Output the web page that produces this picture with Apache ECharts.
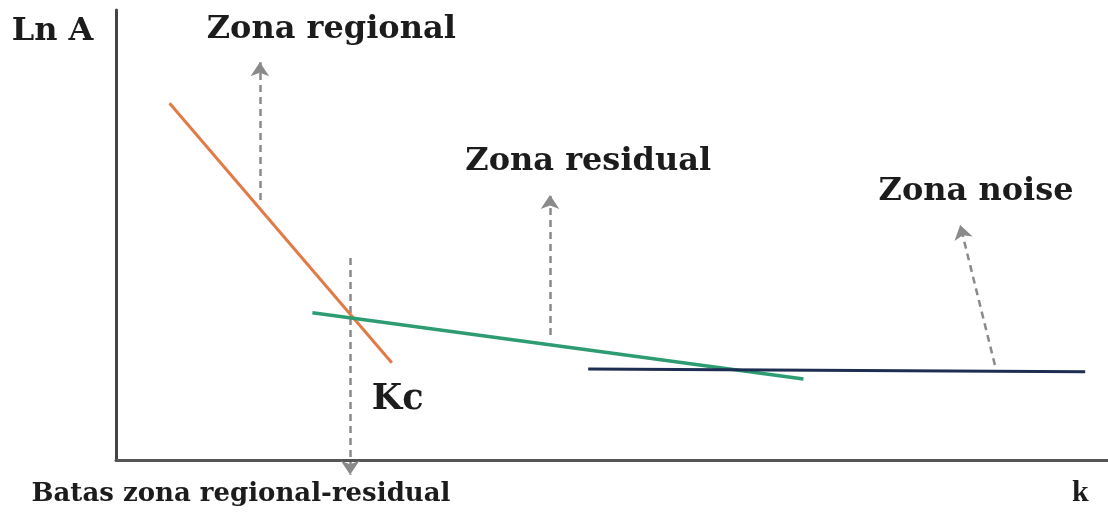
<!DOCTYPE html>
<html>
<head>
<meta charset="utf-8">
<script src="https://cdn.jsdelivr.net/npm/echarts@6/dist/echarts.min.js"></script>
<style>
html,body{margin:0;padding:0;background:#fff;}
#chart{width:1108px;height:515px;}
</style>
</head>
<body>
<div id="chart"></div>
<script>
// ---- data (abstract units: x 0..100, y 0..100) ----
const regionalLine = [[5.4, 79.3], [27.8, 21.6]];
const residualLine = [[19.8, 32.7], [69.3, 18.0]];
const noiseLine = [[47.6, 20.2], [97.7, 19.6]];

// dashed arrows: [from, to]
const arrowRegional = [[14.5, 57.8], [14.5, 88.4]];
const arrowResidual = [[43.75, 27.8], [43.75, 58.9]];
const arrowNoise = [[88.6, 21.1], [85.1, 52.2]];
const arrowKc = [[23.6, 44.9], [23.6, -3.3]];

// text annotations
const zoneLabels = ["Zona regional", "Zona residual", "Zona noise"];
const zoneLabelPos = [[21.7, 95.6], [47.6, 66.2], [86.7, 59.6]];
const kcLabel = "Kc";
const kcLabelPos = [28.4, 13.3];
const boundaryLabel = "Batas zona regional-residual";
const boundaryLabelPos = [12.6, -7.6];
const xAxisLabel = "k";
const xAxisLabelPos = [97.2, -7.3];
const yAxisLabel = "Ln A";
const yAxisLabelPos = [-6.4, 95.1];

function textPoint(pos, text, size, family) {
  return {
    value: pos,
    label: {
      show: true, position: "inside", formatter: text,
      fontSize: size, fontFamily: family || "DejaVu Serif", fontWeight: "bold", color: "#1c1c1c"
    }
  };
}

const chart = echarts.init(document.getElementById("chart"), null, {renderer: "canvas"});
const arrowSeries = (coords) => ({
  type: "lines", coordinateSystem: "cartesian2d", silent: true, clip: false,
  symbol: ["none", "arrow"], symbolSize: 14,
  lineStyle: {color: "#8a8a8a", width: 2.5, type: [7, 5], opacity: 1},
  data: [{coords: coords}], z: 3
});

const option = {
  animation: false,
  backgroundColor: "#fff",
  grid: {left: 116, right: 0, top: 10, bottom: 55, containLabel: false},
  xAxis: {
    type: "value", min: 0, max: 100,
    axisLine: {show: true, lineStyle: {color: "#555", width: 3}},
    axisTick: {show: false}, axisLabel: {show: false}, splitLine: {show: false}
  },
  yAxis: {
    type: "value", min: 0, max: 100,
    axisLine: {show: true, lineStyle: {color: "#444", width: 3}},
    axisTick: {show: false}, axisLabel: {show: false}, splitLine: {show: false}
  },
  series: [
    {type: "line", data: regionalLine, symbol: "none", lineStyle: {color: "#e27a48", width: 3}, z: 4},
    {type: "line", data: residualLine, symbol: "none", lineStyle: {color: "#2d9c72", width: 3.5}, z: 4},
    {type: "line", data: noiseLine, symbol: "none", lineStyle: {color: "#1e2d52", width: 3}, z: 5},
    arrowSeries(arrowRegional),
    arrowSeries(arrowResidual),
    arrowSeries(arrowNoise),
    arrowSeries(arrowKc),
    {
      type: "scatter", symbolSize: 0, clip: false, silent: true, z: 6,
      itemStyle: {opacity: 1},
      data: [
        textPoint(zoneLabelPos[0], zoneLabels[0], 32),
        textPoint(zoneLabelPos[1], zoneLabels[1], 32),
        textPoint(zoneLabelPos[2], zoneLabels[2], 32),
        textPoint(kcLabelPos, kcLabel, 35),
        textPoint(boundaryLabelPos, boundaryLabel, 26),
        textPoint(xAxisLabelPos, xAxisLabel, 30, "Liberation Serif"),
        textPoint(yAxisLabelPos, yAxisLabel, 32)
      ]
    }
  ]
};
chart.setOption(option);
</script>
</body>
</html>
